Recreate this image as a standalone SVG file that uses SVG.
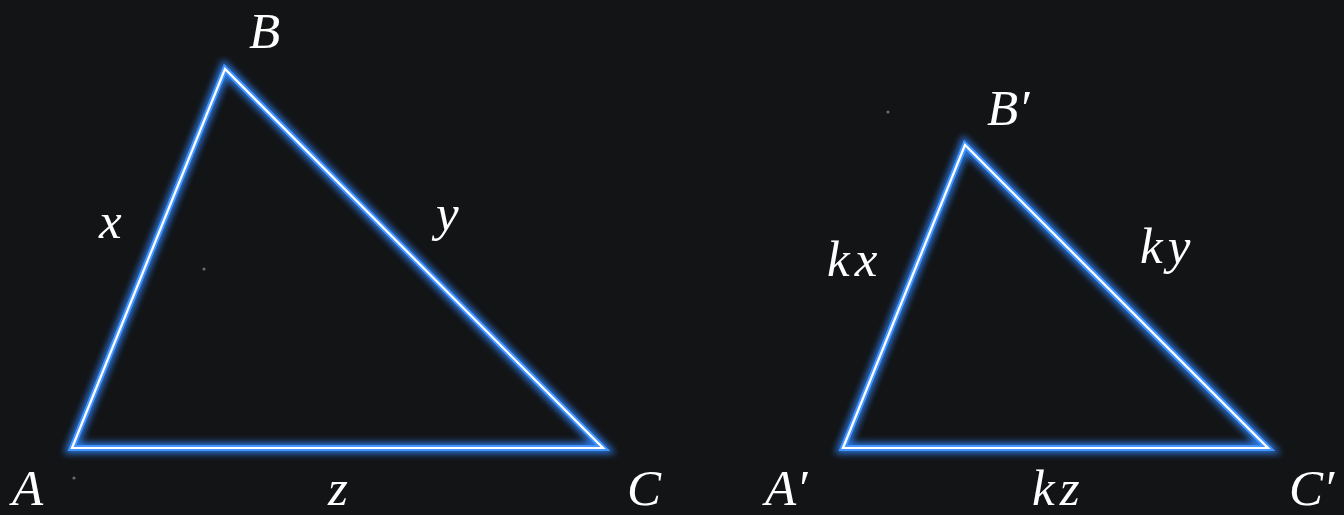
<svg xmlns="http://www.w3.org/2000/svg" width="1344" height="515" viewBox="0 0 1344 515">
<defs>
<filter id="glow" x="-20%" y="-20%" width="140%" height="140%">
<feGaussianBlur stdDeviation="3.5"/>
</filter>
<style>
.glow{fill:none;stroke:#2f86ff;stroke-width:11;stroke-linejoin:miter;filter:url(#glow);opacity:0.85}
.edge{fill:none;stroke:#4595ff;stroke-width:6;stroke-linejoin:miter}
.core{fill:none;stroke:#ffffff;stroke-width:2.2;stroke-linejoin:miter}
.lbl{font-family:"Liberation Serif","DejaVu Serif",serif;font-style:italic;font-size:51px;fill:#ffffff}
.wide{letter-spacing:5px}
.dot{fill:#6a6a6a}
</style>
</defs>
<rect width="1344" height="515" fill="#131416"/>
<g id="connectors">
<polygon class="glow" points="72,448 225,69 603,448"/>
<polygon class="edge" points="72,448 225,69 603,448"/>
<polygon class="core" points="72,448 225,69 603,448"/>
<polygon class="glow" points="843,448 965,145 1268,448"/>
<polygon class="edge" points="843,448 965,145 1268,448"/>
<polygon class="core" points="843,448 965,145 1268,448"/>
</g>
<g id="A"><text class="lbl" x="12" y="505">A</text></g>
<g id="B"><text class="lbl" x="249" y="48">B</text></g>
<g id="C"><text class="lbl" x="627" y="505">C</text></g>
<g id="A2"><text class="lbl" x="765" y="505">A′</text></g>
<g id="B2"><text class="lbl" x="987" y="125">B′</text></g>
<g id="C2"><text class="lbl" x="1289" y="505">C′</text></g>
<g id="labels">
<text class="lbl" x="99" y="238">x</text>
<text class="lbl" x="436" y="230">y</text>
<text class="lbl" x="328" y="505">z</text>
<text class="lbl wide" x="827" y="276">kx</text>
<text class="lbl wide" x="1140" y="263">ky</text>
<text class="lbl wide" x="1032" y="505">kz</text>
</g>
<g id="dots">
<circle class="dot" cx="888" cy="112" r="1.6"/>
<circle class="dot" cx="204" cy="269" r="1.6"/>
<circle class="dot" cx="74" cy="478" r="1.6"/>
</g>
</svg>
